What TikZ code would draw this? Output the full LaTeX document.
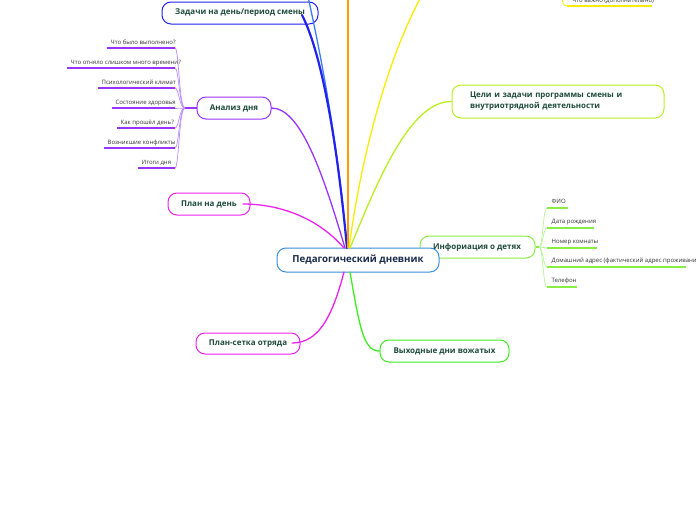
\documentclass[tikz,border=0pt]{standalone}
\usepackage{fontspec}
\setmainfont{Open Sans}
\definecolor{cCenter}{HTML}{3A8FD8}
\definecolor{cDBlue}{HTML}{2222EE}
\definecolor{cLBlue}{HTML}{3A7AFF}
\definecolor{cOrange}{HTML}{FF9A00}
\definecolor{cYellow}{HTML}{F8EC00}
\definecolor{cYGreen}{HTML}{B8F020}
\definecolor{cPurple}{HTML}{9933FF}
\definecolor{cPurpleL}{HTML}{B98CFF}
\definecolor{cMagenta}{HTML}{EE22EE}
\definecolor{cGreen}{HTML}{3EEE22}
\definecolor{cInfo}{HTML}{88EE44}
\definecolor{cInfoL}{HTML}{B8F598}
\definecolor{nodetext}{HTML}{1D4A3A}
\definecolor{centertext}{HTML}{1A2B4C}
\definecolor{leaftext}{HTML}{333333}
\tikzset{
  box/.style={draw, rounded corners=9pt, line width=1pt, fill=white, inner sep=0pt,
    font=\bfseries\fontsize{8}{10}\selectfont, text=nodetext},
  btxt/.style={inner sep=0pt, font=\bfseries\fontsize{8}{10}\selectfont, text=nodetext},
  leaftxt/.style={inner sep=0pt, font=\fontsize{6}{7}\selectfont, text=leaftext},
  conn/.style={line width=1.3pt, line cap=round},
  uline/.style={line width=1.4pt},
  twig/.style={line width=0.7pt}
}
\begin{document}
\begin{tikzpicture}[x=1pt,y=-1pt]
\useasboundingbox (0,0) rectangle (696,520);
\clip (0,0) rectangle (696,520);

% hub coordinates
\coordinate (hubTop) at (347,248);
\coordinate (hubMid) at (360,258);
\coordinate (lbEnd) at (306,-12);
\coordinate (orEnd) at (348,-12);
\coordinate (yeEnd) at (426,-12);
\coordinate (infoMid) at (430,253);

% info connector, hidden under the boxes
\draw[conn, cInfo] (hubMid) -- (infoMid);
% info box (under central node)
\node[box, draw=cInfo, minimum width=115pt, minimum height=22pt] (info) at (477.5,247) {};

% main boxes
\node[box, draw=cDBlue, minimum width=156pt, minimum height=22pt] (zad) at (240,13) {Задачи на день/период смены};
\node[box, draw=cPurple, minimum width=74pt, minimum height=22pt] (analiz) at (234,108) {Анализ дня};
\node[box, draw=cMagenta, minimum width=82pt, minimum height=22pt] (plan) at (209,204) {План на день};
\node[box, draw=cMagenta, minimum width=104pt, minimum height=21pt] (setka) at (248,343.5) {План-сетка отряда};
\node[box, draw=cGreen, minimum width=129pt, minimum height=22pt] (vyh) at (444.5,351) {Выходные дни вожатых};
\node[box, draw=cYGreen, minimum width=212pt, minimum height=33pt, text width=176pt, align=left,
      font=\bfseries\fontsize{7.9}{11}\selectfont] (celi) at (558,101.5)
      {Цели и задачи программы смены и внутриотрядной деятельности};

% central node
\node[box, draw=cCenter, minimum width=162pt, minimum height=24pt, text=centertext,
      font=\bfseries\fontsize{9.7}{11}\selectfont] (center) at (358,260) {Педагогический дневник};
\node[btxt] (infotxt) at (477,247) {Инфориация о детях};

% end points inside boxes
\coordinate (zadIn) at (302,15);
\coordinate (planIn) at (243,204);
\coordinate (setkaIn) at (292,343);

% main connectors
\draw[conn, cLBlue] (hubTop) .. controls (338,140) and (318,40) .. (lbEnd);
\draw[conn, cDBlue, line width=2.2pt] (hubTop) .. controls (336,130) and (320,50) .. (zadIn);
\draw[conn, cOrange] (348,248) -- (orEnd);
\draw[conn, cYellow] (349,248) .. controls (362,150) and (390,50) .. (yeEnd);
\draw[conn, cYGreen] (350,248) .. controls (378,180) and (410,101) .. (celi.west);
\draw[conn, cPurple] (345,248) .. controls (322,170) and (300,108) .. (analiz.east);
\draw[conn, cMagenta] (344,248) .. controls (318,218) and (280,204) .. (planIn);
\draw[conn, cMagenta] (344,272) .. controls (332,318) and (318,343) .. (setkaIn);
\draw[conn, cGreen] (350,272) .. controls (360,330) and (364,351) .. (vyh.west);

% Analysis leaves
\coordinate (aHub) at (185,108);
\draw[cPurple, line width=1.5pt] (analiz.west) -- (aHub);
\foreach \y/\xs/\t/\n in {48/107/{Что было выполнено?}/a1,
                          68/67/{Что отняло слишком много времени?}/a2,
                          88/98/{Психологический климат}/a3,
                          108/112/{Состояние здоровья}/a4,
                          128/117/{Как прошёл день?}/a5,
                          148/104/{Возникшие конфликты}/a6,
                          168/138/{Итоги дня}/a7}{
  \coordinate (\n e) at (175,\y);
  \coordinate (\n s) at (\xs,\y);
  \draw[twig, cPurpleL] (aHub) .. controls (179,108) and (179,\y) .. (\n e);
  \draw[uline, cPurple] (\n s) -- (\n e);
  \node[leaftxt, anchor=base west] (\n) at (\xs+3.5,\y-3.8) {\t};
}

% Info leaves
\coordinate (iHub) at (539,247);
\draw[cInfo, line width=1.5pt] (info.east) -- (iHub);
\foreach \y/\xe/\t/\n in {208/568/{ФИО}/i1,
                          228/594/{Дата рождения}/i2,
                          248/597/{Номер комнаты}/i3,
                          267/686/{Домашний адрес (фактический адрес проживания)}/i4,
                          287/577/{Телефон}/i5}{
  \coordinate (\n s) at (547,\y);
  \coordinate (\n e) at (\xe,\y);
  \draw[twig, cInfoL] (iHub) .. controls (543,247) and (543,\y) .. (\n s);
  \draw[uline, cInfo] (\n s) -- (\n e);
  \node[leaftxt, anchor=base west] (\n) at (551.5,\y-4.8) {\t};
}

% top yellow leaf (cut off)
\coordinate (yTop) at (562,-8);
\coordinate (yS) at (567,6);
\coordinate (yE) at (652,6);
\draw[twig, cYellow] (yTop) .. controls (562,3) and (563,6) .. (yS);
\draw[uline, cYellow] (yS) -- (yE);
\node[leaftxt, anchor=base west] (ytxt) at (572,2) {Что важно (дополнительно)};
\end{tikzpicture}
\end{document}
